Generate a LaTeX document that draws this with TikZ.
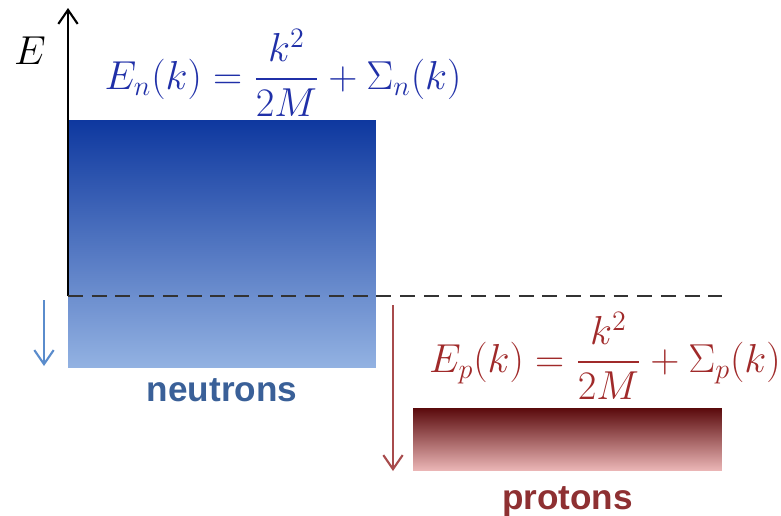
\documentclass[tikz,border=0pt]{standalone}
\usepackage{amsmath}
\usepackage{graphicx}
\usepackage{fontspec}
\newfontfamily\labelfont{Liberation Sans}
\usetikzlibrary{positioning,arrows.meta,calc}
\definecolor{ndark}{HTML}{0E389F}
\definecolor{nmid}{HTML}{4C7AC6}
\definecolor{nlight}{HTML}{93B2E2}
\definecolor{ntext}{HTML}{2030A8}
\definecolor{nlabel}{HTML}{3A6098}
\definecolor{narrow}{HTML}{5A8CCC}
\definecolor{pdark}{HTML}{5A0A0C}
\definecolor{pmid}{HTML}{A35A5B}
\definecolor{plight}{HTML}{EAB5B5}
\definecolor{ptext}{HTML}{A02A2A}
\definecolor{plabel}{HTML}{8E3032}
\definecolor{parrow}{HTML}{A84B4C}
\newcommand{\bigmath}[1]{\scalebox{1.11}{$#1$}}

\begin{document}
\begin{tikzpicture}[x=0.02cm, y=-0.02cm, node distance=4pt,
          level/.style={inner sep=0pt, outer sep=0pt, draw=none},
          formula/.style={font=\fontsize{20.74}{25}\selectfont, inner sep=1pt},
          species/.style={font=\labelfont\bfseries\fontsize{20}{24}\selectfont, inner sep=1pt},
          tip/.style={-{Straight Barb[length=8pt,width=11pt]}, line width=1.2pt}]
        \useasboundingbox (0,0) rectangle (781,515);

        \node[level, minimum width=6.16cm, minimum height=4.96cm,
              top color=ndark, middle color=nmid, bottom color=nlight] (nbox) at (222,244) {};
        \node[level, minimum width=6.18cm, minimum height=1.24cm,
              top color=pdark, middle color=pmid, bottom color=plight] (pbox) at (567.5,439) {};

        \coordinate (o)    at (68,296);
        \coordinate (etop) at (68,8);
        \coordinate (fend) at (722,296);
        \draw[tip] (o) -- (etop);
        \draw[dashed, dash pattern=on 8.5pt off 5pt, line width=1.6pt, color=black!80] (o) -- (fend);

        \node[formula] (elabel) at (30,51) {\bigmath{E}};
        \node[formula, text=ntext] (En) at (283,73)
          {\bigmath{E_n(k) = \dfrac{k^2}{2M} + \Sigma_n(k)}};
        \node[formula, text=ptext] (Ep) at (605,356)
          {\bigmath{E_p(k) = \dfrac{k^2}{2M} + \Sigma_p(k)}};

        \node[species, text=nlabel, below=5pt of nbox] (nname) {neutrons};
        \node[species, text=plabel, below=8pt of pbox] (pname) {protons};

        \coordinate (na) at (44,300);
        \coordinate (nb) at (44,366);
        \coordinate (pa) at (393,305);
        \coordinate (pb) at (393,471);
        \draw[tip, color=narrow] (na) -- (nb);
        \draw[tip, color=parrow] (pa) -- (pb);
      \end{tikzpicture}
\end{document}
